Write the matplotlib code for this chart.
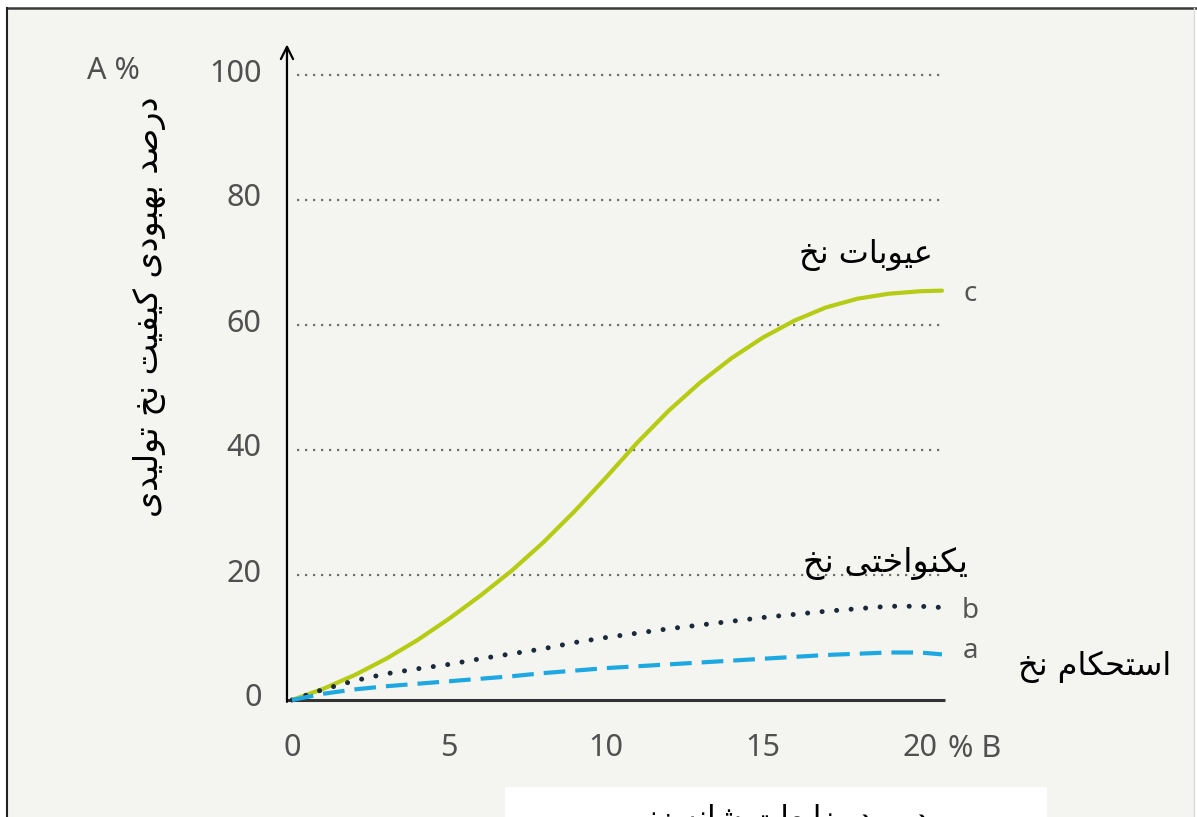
import matplotlib
matplotlib.use("Agg")
import matplotlib.pyplot as plt
from matplotlib.patches import Rectangle
from matplotlib.lines import Line2D
import matplotlib.transforms as mtransforms

# ---- data -----------------------------------------------------------------
x_vals = [0, 1, 2, 3, 4, 5, 6, 7, 8, 9, 10, 11, 12, 13, 14, 15, 16, 17, 18, 19, 20, 20.7]
defects_c = [0, 1.8, 4.0, 6.6, 9.6, 13.0, 16.7, 20.7, 25.2, 30.2, 35.6, 41.2, 46.3,
             50.8, 54.7, 58.0, 60.7, 62.8, 64.2, 65.0, 65.4, 65.5]
evenness_b = [0, 1.7, 3.1, 4.2, 5.0, 5.7, 6.6, 7.4, 8.2, 9.2, 10.0, 10.7, 11.4,
              12.0, 12.6, 13.2, 13.7, 14.2, 14.6, 15.0, 15.0, 14.8]
strength_a = [0, 1.0, 1.7, 2.2, 2.6, 3.0, 3.4, 3.8, 4.3, 4.7, 5.1, 5.4, 5.7,
              6.0, 6.3, 6.6, 6.9, 7.2, 7.4, 7.6, 7.6, 7.3]

x_ticks = [0, 5, 10, 15, 20]
y_ticks = [0, 20, 40, 60, 80, 100]
grid_levels = [20, 40, 60, 80, 100]

y_title = "درصد بهبودی کیفیت نخ تولیدی"
label_c = "عیوبات نخ"
label_b = "یکنواختی نخ"
label_a = "استحکام نخ"
x_title = "درصد ضایعات شانه زنی"


# ---- minimal Persian shaping (contextual forms + visual order) ------------
# (isolated, final, initial, medial); None where the letter does not join left
FORMS = {
    "\u0627": ("\uFE8D", "\uFE8E", None, None),
    "\u0628": ("\uFE8F", "\uFE90", "\uFE91", "\uFE92"),
    "\u062A": ("\uFE95", "\uFE96", "\uFE97", "\uFE98"),
    "\u062D": ("\uFEA1", "\uFEA2", "\uFEA3", "\uFEA4"),
    "\u062E": ("\uFEA5", "\uFEA6", "\uFEA7", "\uFEA8"),
    "\u062F": ("\uFEA9", "\uFEAA", None, None),
    "\u0631": ("\uFEAD", "\uFEAE", None, None),
    "\u0632": ("\uFEAF", "\uFEB0", None, None),
    "\u0633": ("\uFEB1", "\uFEB2", "\uFEB3", "\uFEB4"),
    "\u0634": ("\uFEB5", "\uFEB6", "\uFEB7", "\uFEB8"),
    "\u0635": ("\uFEB9", "\uFEBA", "\uFEBB", "\uFEBC"),
    "\u0636": ("\uFEBD", "\uFEBE", "\uFEBF", "\uFEC0"),
    "\u0639": ("\uFEC9", "\uFECA", "\uFECB", "\uFECC"),
    "\u0641": ("\uFED1", "\uFED2", "\uFED3", "\uFED4"),
    "\u0644": ("\uFEDD", "\uFEDE", "\uFEDF", "\uFEE0"),
    "\u0645": ("\uFEE1", "\uFEE2", "\uFEE3", "\uFEE4"),
    "\u0646": ("\uFEE5", "\uFEE6", "\uFEE7", "\uFEE8"),
    "\u0647": ("\uFEE9", "\uFEEA", "\uFEEB", "\uFEEC"),
    "\u0648": ("\uFEED", "\uFEEE", None, None),
    "\u06CC": ("\uFBFC", "\uFBFD", "\uFBFE", "\uFBFF"),
    "\u06A9": ("\uFB8E", "\uFB8F", "\uFB90", "\uFB91"),
}


def shape(text):
    out = []
    n = len(text)
    for i, ch in enumerate(text):
        if ch not in FORMS:
            out.append(ch)
            continue
        iso, fin, ini, med = FORMS[ch]
        prev = text[i - 1] if i > 0 else ""
        nxt = text[i + 1] if i + 1 < n else ""
        joins_prev = prev in FORMS and FORMS[prev][2] is not None
        joins_next = ini is not None and nxt in FORMS
        if joins_prev and joins_next:
            out.append(med)
        elif joins_prev:
            out.append(fin)
        elif joins_next:
            out.append(ini)
        else:
            out.append(iso)
    return "".join(reversed(out))


# ---- figure ---------------------------------------------------------------
W, H = 1197, 817
fig = plt.figure(figsize=(W / 100, H / 100), dpi=100)
fig.patch.set_facecolor("white")
BG = "#f4f5f1"

# page panel with its dark border
fig.add_artist(Rectangle((7 / W, 0), (1195 - 7) / W, (H - 8) / H,
                         transform=fig.transFigure, facecolor=BG,
                         edgecolor="none", zorder=0))
fig.add_artist(Line2D([7 / W, 1], [(H - 8) / H, (H - 8) / H],
                      transform=fig.transFigure, color="#3a3a3a", lw=1.8))
fig.add_artist(Line2D([7 / W, 7 / W], [0, (H - 8) / H],
                      transform=fig.transFigure, color="#222222", lw=1.5))
fig.add_artist(Line2D([1194 / W, 1194 / W], [0, (H - 8) / H],
                      transform=fig.transFigure, color="#dcdcd8", lw=1.0))

# axes geometry (pixel anchors of the data origin and scale)
X0PX, XSCALE = 292, 31.4
Y0PX, YSCALE = 700, 6.25
xlim = (-0.3, 21.5)
ylim = (-1.0, 106.0)
left_px = X0PX + xlim[0] * XSCALE
right_px = X0PX + xlim[1] * XSCALE
bottom_px = Y0PX - ylim[0] * YSCALE
top_px = Y0PX - ylim[1] * YSCALE
ax = fig.add_axes([left_px / W, (H - bottom_px) / H,
                   (right_px - left_px) / W, (bottom_px - top_px) / H])
ax.set_xlim(*xlim)
ax.set_ylim(*ylim)
ax.patch.set_alpha(0)
for s in ax.spines.values():
    s.set_visible(False)

num_font = dict(family="Noto Sans", size=22, color="#505050")
letter_font = dict(family="Noto Sans", size=20, color="#555555")

# horizontal dotted guides
ax.hlines(grid_levels, 0.15, 20.8, colors="#6e6e6e", lw=1.6,
          linestyles=[(0, (1, 2.6))])

# axes lines
ax.plot([-0.16, 20.8], [0, 0], color="#333333", lw=2.2, solid_capstyle="butt", zorder=3)
ax.annotate("", xy=(-0.16, 104.9), xytext=(-0.16, -0.3),
            arrowprops=dict(arrowstyle="->", color="black", lw=1.6,
                            mutation_scale=22, shrinkA=0, shrinkB=0), zorder=4)

# ticks
ax.set_xticks(x_ticks)
ax.set_xticklabels([str(v) for v in x_ticks], fontdict=num_font)
ax.set_yticks(y_ticks)
ax.set_yticklabels([str(v) for v in y_ticks], fontdict=num_font)
ax.tick_params(axis="both", length=0)
ax.tick_params(axis="x", pad=19)
ax.tick_params(axis="y", pad=15)
shift_up = mtransforms.ScaledTranslation(0, 5 / 100, fig.dpi_scale_trans)
for lbl in ax.get_yticklabels():
    lbl.set_transform(lbl.get_transform() + shift_up)

# curves
ax.plot(x_vals, defects_c, color="#b6cb14", lw=3.0, solid_capstyle="round", zorder=5)
ax.plot(x_vals, evenness_b, color="#1b2a3a", lw=3.6,
        linestyle=(0, (0.01, 2.9)), dash_capstyle="round", zorder=5)
ax.plot(x_vals, strength_a, color="#1ea8e2", lw=3.0,
        linestyle=(0, (5.2, 2.4)), dash_capstyle="butt", zorder=5)

# curve letters
ax.text(21.6, defects_c[-1] - 0.6, "c", ha="center", va="center", **letter_font)
ax.text(21.6, evenness_b[-1] - 0.6, "b", ha="center", va="center", **letter_font)
ax.text(21.6, strength_a[-1] + 0.5, "a", ha="center", va="center", **letter_font)

# axis captions
fig.text(113 / W, 1 - 71 / H, "A %", ha="center", va="center", **num_font)
fig.text(975 / W, 1 - 749 / H, "% B", ha="center", va="center", **num_font)

fa_font = dict(family="DejaVu Sans", color="black")
fig.text(150 / W, 1 - 307 / H, shape(y_title), rotation=90, ha="center", va="center",
         size=24, **fa_font)
fig.text(866 / W, 1 - 255 / H, shape(label_c), ha="center", va="center", size=23, **fa_font)
fig.text(885 / W, 1 - 564 / H, shape(label_b), ha="center", va="center", size=24, **fa_font)
fig.text(1095 / W, 1 - 667 / H, shape(label_a), ha="center", va="center", size=23, **fa_font)

# caption box at the bottom edge
fig.add_artist(Rectangle((505 / W, 0), (1047 - 505) / W, (H - 787) / H,
                         transform=fig.transFigure, facecolor="white",
                         edgecolor="none", zorder=1))
fig.text(776 / W, 1 - 804 / H, shape(x_title), ha="center", va="top",
         size=22, zorder=2, **fa_font)

fig.savefig("out.png", dpi=100, facecolor=fig.get_facecolor())
